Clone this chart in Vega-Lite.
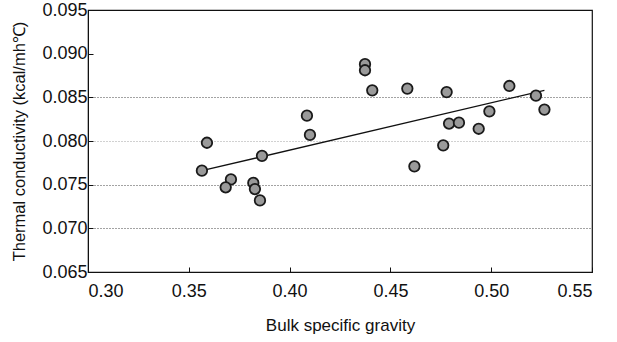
{
  "$schema": "https://vega.github.io/schema/vega-lite/v6.json",
  "width": 504,
  "height": 262,
  "autosize": "none",
  "padding": {"left": 88, "top": 10, "right": 25, "bottom": 70},
  "background": "white",
  "config": {
    "font": "Liberation Sans",
    "view": {"stroke": "#111", "strokeWidth": 1.2},
    "axis": {
      "labelFont": "Liberation Sans",
      "titleFont": "Liberation Sans",
      "labelColor": "#111",
      "titleColor": "#111",
      "domainColor": "#111",
      "tickColor": "#111",
      "titleFontWeight": "normal"
    }
  },
  "datasets": {
    "points": [
      {"gravity": 0.359, "k": 0.0798},
      {"gravity": 0.3565, "k": 0.0766},
      {"gravity": 0.3709, "k": 0.0756},
      {"gravity": 0.3683, "k": 0.0747},
      {"gravity": 0.382, "k": 0.0752},
      {"gravity": 0.3828, "k": 0.0745},
      {"gravity": 0.3853, "k": 0.0732},
      {"gravity": 0.3863, "k": 0.0783},
      {"gravity": 0.4086, "k": 0.0829},
      {"gravity": 0.4101, "k": 0.0807},
      {"gravity": 0.4374, "k": 0.0888},
      {"gravity": 0.4374, "k": 0.0881},
      {"gravity": 0.441, "k": 0.0858},
      {"gravity": 0.4584, "k": 0.086},
      {"gravity": 0.4779, "k": 0.0856},
      {"gravity": 0.4762, "k": 0.0795},
      {"gravity": 0.4619, "k": 0.0771},
      {"gravity": 0.4791, "k": 0.082},
      {"gravity": 0.484, "k": 0.0821},
      {"gravity": 0.4938, "k": 0.0814},
      {"gravity": 0.4991, "k": 0.0834},
      {"gravity": 0.509, "k": 0.0863},
      {"gravity": 0.5222, "k": 0.0852},
      {"gravity": 0.5264, "k": 0.0836}
    ],
    "fit": [
      {"gravity": 0.3565, "k": 0.0766},
      {"gravity": 0.5264, "k": 0.0858}
    ]
  },
  "layer": [
    {
      "data": {"name": "points"},
      "mark": {"type": "point", "opacity": 0},
      "encoding": {
        "x": {
          "field": "gravity", "type": "quantitative",
          "scale": {"domain": [0.3, 0.55], "nice": false, "zero": false},
          "axis": {
            "title": "Bulk specific gravity",
            "values": [0.3, 0.35, 0.4, 0.45, 0.5, 0.55],
            "format": ".2f",
            "grid": false,
            "tickSize": -5,
            "labelPadding": 15,
            "labelFontSize": 18,
            "titleFontSize": 17,
            "titlePadding": 17
          }
        },
        "y": {
          "field": "k", "type": "quantitative",
          "scale": {"domain": [0.065, 0.095], "nice": false, "zero": false},
          "axis": {
            "title": "Thermal conductivity (kcal/mh℃)",
            "values": [0.065, 0.07, 0.075, 0.08, 0.085, 0.09, 0.095],
            "format": ".3f",
            "grid": true,
            "gridColor": "#333",
            "gridDash": [1, 2],
            "gridWidth": 1,
            "gridOpacity": {
              "condition": [
                {"test": "datum.value > 0.0875 || datum.value < 0.0675", "value": 0},
                {"test": "abs(datum.value - 0.08) < 0.001", "value": 0.45}
              ],
              "value": 0.9
            },
            "tickSize": -5,
            "labelPadding": 6,
            "labelFontSize": 18,
            "titleFontSize": 16.5,
            "titlePadding": 14
          }
        }
      }
    },
    {
      "data": {"name": "fit"},
      "mark": {"type": "line", "color": "#111", "strokeWidth": 1.3},
      "encoding": {
        "x": {"field": "gravity", "type": "quantitative"},
        "y": {"field": "k", "type": "quantitative"}
      }
    },
    {
      "data": {"name": "points"},
      "mark": {"type": "circle", "size": 110, "fill": "#9a9a9a", "fillOpacity": 1, "stroke": "#1a1a1a", "strokeWidth": 1.8},
      "encoding": {
        "x": {"field": "gravity", "type": "quantitative"},
        "y": {"field": "k", "type": "quantitative"}
      }
    }
  ]
}
